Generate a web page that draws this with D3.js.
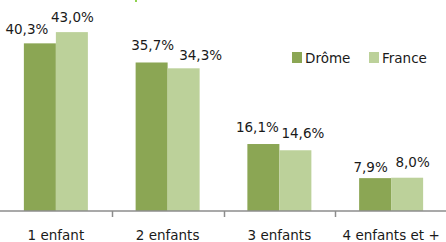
<!DOCTYPE html>
<html lang="fr">
<head>
<meta charset="utf-8">
<title>Nombre d'enfants</title>
<script src="https://cdn.jsdelivr.net/npm/d3@7"></script>
<style>
  body { margin: 0; background: #fff; }
  text { font-family: "DejaVu Sans", sans-serif; font-size: 13.5px; fill: #1a1a1a; }
</style>
</head>
<body>
<script>
// data
var categories = ["1 enfant", "2 enfants", "3 enfants", "4 enfants et +"];
var series = ["Drôme", "France"];
var drome = [40.3, 35.7, 16.1, 7.9];
var france = [43.0, 34.3, 14.6, 8.0];

// hand-placed label nudges, as in the original (px)
var nudgeX = [[-13, 1, -6, -4.5], [0.5, 17, 7.5, 5.5]];
var nudgeY = [[9, 12, 12, 6], [10, 8, 12, 11]];

var w = 446, h = 242;
var colors = ["#8ba654", "#bcd19a"];
var barW = 32;

var svg = d3.select("body").append("svg")
    .attr("width", w)
    .attr("height", h);

var x0 = d3.scaleBand()
    .domain(categories)
    .range([0, 447]);

var x1 = d3.scaleBand()
    .domain(series)
    .range([x0.bandwidth() / 2 - barW, x0.bandwidth() / 2 + barW]);

var y = d3.scaleLinear()
    .domain([0, 50])
    .range([211, 3]);

var values = [drome, france];

// bars
series.forEach(function(s, si) {
  svg.selectAll("rect.s" + si)
    .data(categories)
    .enter()
    .append("rect")
    .attr("class", "s" + si)
    .attr("x", function(d) { return x0(d) + x1(s); })
    .attr("y", function(d, i) { return y(values[si][i]); })
    .attr("width", x1.bandwidth())
    .attr("height", function(d, i) { return y(0) - y(values[si][i]); })
    .attr("fill", colors[si]);

  svg.selectAll("text.l" + si)
    .data(categories)
    .enter()
    .append("text")
    .attr("class", "l" + si)
    .attr("text-anchor", "middle")
    .attr("x", function(d, i) { return x0(d) + x1(s) + x1.bandwidth() / 2 + nudgeX[si][i]; })
    .attr("y", function(d, i) { return y(values[si][i]) - nudgeY[si][i]; })
    .text(function(d, i) { return values[si][i].toFixed(1).replace(".", ",") + "%"; });
});

// x axis
var axis = svg.append("g")
    .attr("transform", "translate(0," + y(0) + ")")
    .call(d3.axisBottom(x0).tickSize(0).tickPadding(0).tickFormat(""));
axis.select(".domain").attr("stroke", "#8c8c8c").attr("stroke-width", 1.5).attr("d", "M0,0H" + w);
axis.selectAll(".tick").remove();

// boundary ticks between categories
svg.selectAll("line.sep")
  .data(categories.slice(1))
  .enter()
  .append("line")
  .attr("x1", function(d) { return Math.round(x0(d)) + 0.5; })
  .attr("x2", function(d) { return Math.round(x0(d)) + 0.5; })
  .attr("y1", y(0))
  .attr("y2", y(0) + 6)
  .attr("stroke", "#8c8c8c")
  .attr("stroke-width", 1.5);

svg.selectAll("text.cat")
  .data(categories)
  .enter()
  .append("text")
  .attr("class", "cat")
  .attr("text-anchor", "middle")
  .attr("x", function(d) { return x0(d) + x0.bandwidth() / 2; })
  .attr("y", 240)
  .text(function(d) { return d; });

// legend
var legendX = [292, 369];
var lg = svg.selectAll("g.leg")
  .data(series)
  .enter()
  .append("g")
  .attr("class", "leg")
  .attr("transform", function(d, i) { return "translate(" + legendX[i] + ",52)"; });
lg.append("rect")
  .attr("width", 10).attr("height", 11)
  .attr("fill", function(d, i) { return colors[i]; });
lg.append("text")
  .attr("x", 13).attr("y", 11)
  .text(function(d) { return d; });

// small clipped mark at the top edge
svg.append("rect").attr("x", 135).attr("y", 0).attr("width", 2).attr("height", 2).attr("fill", "#8fd14f");
</script>
</body>
</html>
